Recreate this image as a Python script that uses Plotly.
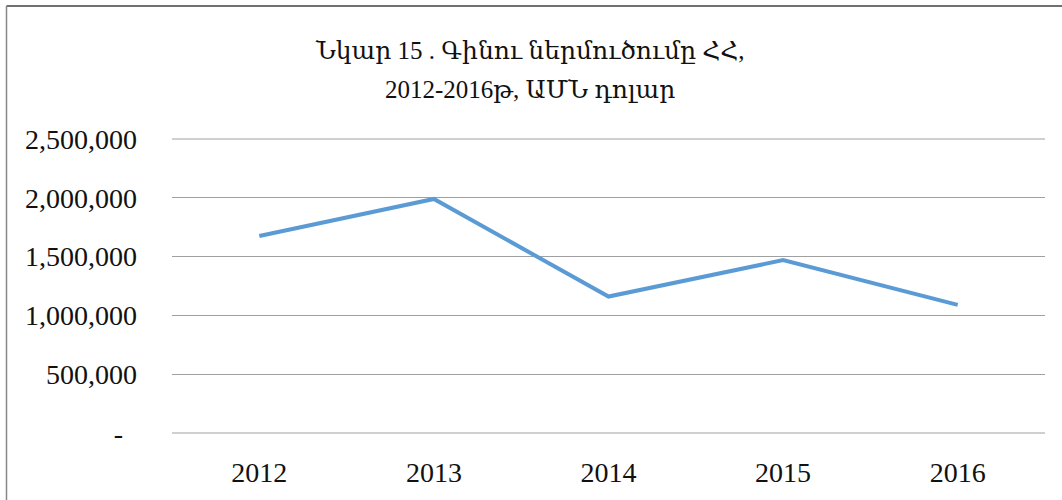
import plotly.graph_objects as go

years = ["2012", "2013", "2014", "2015", "2016"]
imports_usd = [1675000, 1990000, 1160000, 1470000, 1090000]
tick_vals = [0, 500000, 1000000, 1500000, 2000000, 2500000]
tick_text = ["-\u00a0\u00a0", "500,000", "1,000,000", "1,500,000", "2,000,000", "2,500,000"]
title_lines = ["Նկար 15 . Գինու ներմուծումը ՀՀ,", "2012-2016թ, ԱՄՆ դոլար"]

W, H = 1062, 500
L, R, T, B = 172, 17, 139, 67
pw, ph = W - L - R, H - T - B

def px_x(x):
    return (x - L) / pw

def px_y(y):
    return (H - B - y) / ph

fig = go.Figure()
fig.add_trace(go.Scatter(
    x=years, y=imports_usd, mode="lines",
    line=dict(color="#5B9BD5", width=4),
    hoverinfo="skip", showlegend=False,
))

font_family = "Liberation Serif, DejaVu Serif, serif"

annotations = []
for i, (line, yc) in enumerate(zip(title_lines, [51, 90])):
    annotations.append(dict(
        text=line, xref="paper", yref="paper",
        x=px_x(W / 2 - 1), y=px_y(yc), xanchor="center", yanchor="middle",
        showarrow=False,
        font=dict(family=font_family, size=25, color="#111111"),
    ))

fig.update_layout(
    width=W, height=H,
    margin=dict(l=L, r=R, t=T, b=B),
    paper_bgcolor="white", plot_bgcolor="white",
    annotations=annotations,
    xaxis=dict(showgrid=False, showline=False, zeroline=False, ticks="",
               range=[-0.5, 4.5],
               tickfont=dict(family=font_family, size=28, color="#111111"),
               ticklabelstandoff=20),
    yaxis=dict(range=[0, 2500000], tickvals=tick_vals, ticktext=tick_text,
               showgrid=True, gridcolor="#A0A0A0", gridwidth=1,
               zeroline=False, showline=False, ticks="",
               tickfont=dict(family=font_family, size=28, color="#111111"),
               ticklabelstandoff=34),
    shapes=[
        dict(type="line", xref="paper", yref="paper",
             x0=px_x(6.5), x1=px_x(W + 5), y0=px_y(6), y1=px_y(6),
             line=dict(color="#404040", width=1.5)),
        dict(type="line", xref="paper", yref="paper",
             x0=px_x(6.5), x1=px_x(6.5), y0=px_y(6), y1=px_y(H + 5),
             line=dict(color="#888888", width=1.5)),
        dict(type="line", xref="paper", yref="paper",
             x0=0, x1=1, y0=1, y1=1, layer="below",
             line=dict(color="#A0A0A0", width=1)),
        dict(type="line", xref="paper", yref="paper",
             x0=0, x1=1, y0=0, y1=0, layer="below",
             line=dict(color="#A0A0A0", width=1)),
    ],
)

fig.write_html("out.html", config={"displayModeBar": False},
               post_script="document.body.style.margin='0';document.body.style.overflow='hidden';")
